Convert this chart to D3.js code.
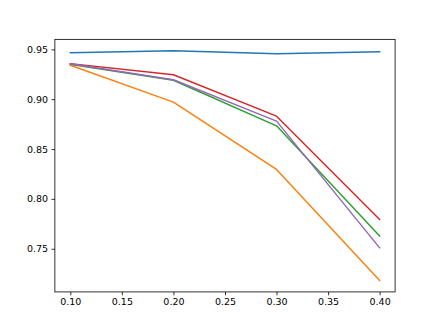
<!DOCTYPE html>
<html>
<head>
<meta charset="utf-8">
<script src="https://cdn.jsdelivr.net/npm/d3@7"></script>
<style>
  html, body { margin: 0; padding: 0; background: #fff; }
  svg { display: block; }
  text { font-family: "DejaVu Sans", sans-serif; }
</style>
</head>
<body>
<div id="chart"></div>
<script>
const xValues = [0.1, 0.2, 0.3, 0.4];
const blue   = [0.9465, 0.9485, 0.9455, 0.9475];
const orange = [0.9340, 0.8970, 0.8295, 0.7182];
const green  = [0.9350, 0.9190, 0.8733, 0.7629];
const red    = [0.9357, 0.9245, 0.8830, 0.7793];
const purple = [0.9355, 0.9195, 0.8780, 0.7509];
const xTicks = [0.10, 0.15, 0.20, 0.25, 0.30, 0.35, 0.40];
const yTicks = [0.75, 0.80, 0.85, 0.90, 0.95];

const seriesList = [
  { values: blue,   color: "#1f77b4" },
  { values: orange, color: "#ff7f0e" },
  { values: green,  color: "#2ca02c" },
  { values: red,    color: "#d62728" },
  { values: purple, color: "#9467bd" }
];

const W = 439, H = 328;
const mLeft = 0.125 * W, mRight = 0.9 * W, mTop = 0.12 * H, mBottom = 0.89 * H;

const allY = seriesList.flatMap(s => s.values);
const yMin = d3.min(allY), yMax = d3.max(allY);
const yPad = (yMax - yMin) * 0.05;
const xMin = d3.min(xValues), xMax = d3.max(xValues);
const xPad = (xMax - xMin) * 0.05;

const x = d3.scaleLinear().domain([xMin - xPad, xMax + xPad]).range([mLeft, mRight]);
const y = d3.scaleLinear().domain([yMin - yPad, yMax + yPad]).range([mBottom, mTop]);

const svg = d3.select("#chart").append("svg").attr("width", W).attr("height", H);

svg.append("defs").append("clipPath").attr("id", "clip")
  .append("rect").attr("x", mLeft).attr("y", mTop).attr("width", mRight - mLeft).attr("height", mBottom - mTop);

const line = d3.line().x((d, i) => x(xValues[i])).y(d => y(d));

const g = svg.append("g").attr("clip-path", "url(#clip)");
seriesList.forEach(s => {
  g.append("path").datum(s.values)
    .attr("d", line)
    .attr("fill", "none")
    .attr("stroke", s.color)
    .attr("stroke-width", 1.45)
    .attr("stroke-linecap", "square")
    .attr("stroke-linejoin", "round");
});

const tickLen = 3.4, pad = 3.4, fs = 9.5;

const xAxis = d3.axisBottom(x).tickValues(xTicks).tickFormat(d3.format(".2f"))
  .tickSizeInner(tickLen).tickSizeOuter(0).tickPadding(pad);
const yAxis = d3.axisLeft(y).tickValues(yTicks).tickFormat(d3.format(".2f"))
  .tickSizeInner(tickLen).tickSizeOuter(0).tickPadding(pad);

const gx = svg.append("g").attr("transform", `translate(0,${mBottom})`).call(xAxis);
const gy = svg.append("g").attr("transform", `translate(${mLeft},0)`).call(yAxis);
[gx, gy].forEach(a => {
  a.select(".domain").remove();
  a.selectAll(".tick line").attr("stroke", "#000").attr("stroke-width", 0.8);
  a.selectAll(".tick text").attr("fill", "#000").style("font-size", fs + "px")
    .style("font-family", "'DejaVu Sans', sans-serif");
});

svg.append("rect")
  .attr("x", mLeft).attr("y", mTop)
  .attr("width", mRight - mLeft).attr("height", mBottom - mTop)
  .attr("fill", "none").attr("stroke", "#000").attr("stroke-width", 0.8);
</script>
</body>
</html>
